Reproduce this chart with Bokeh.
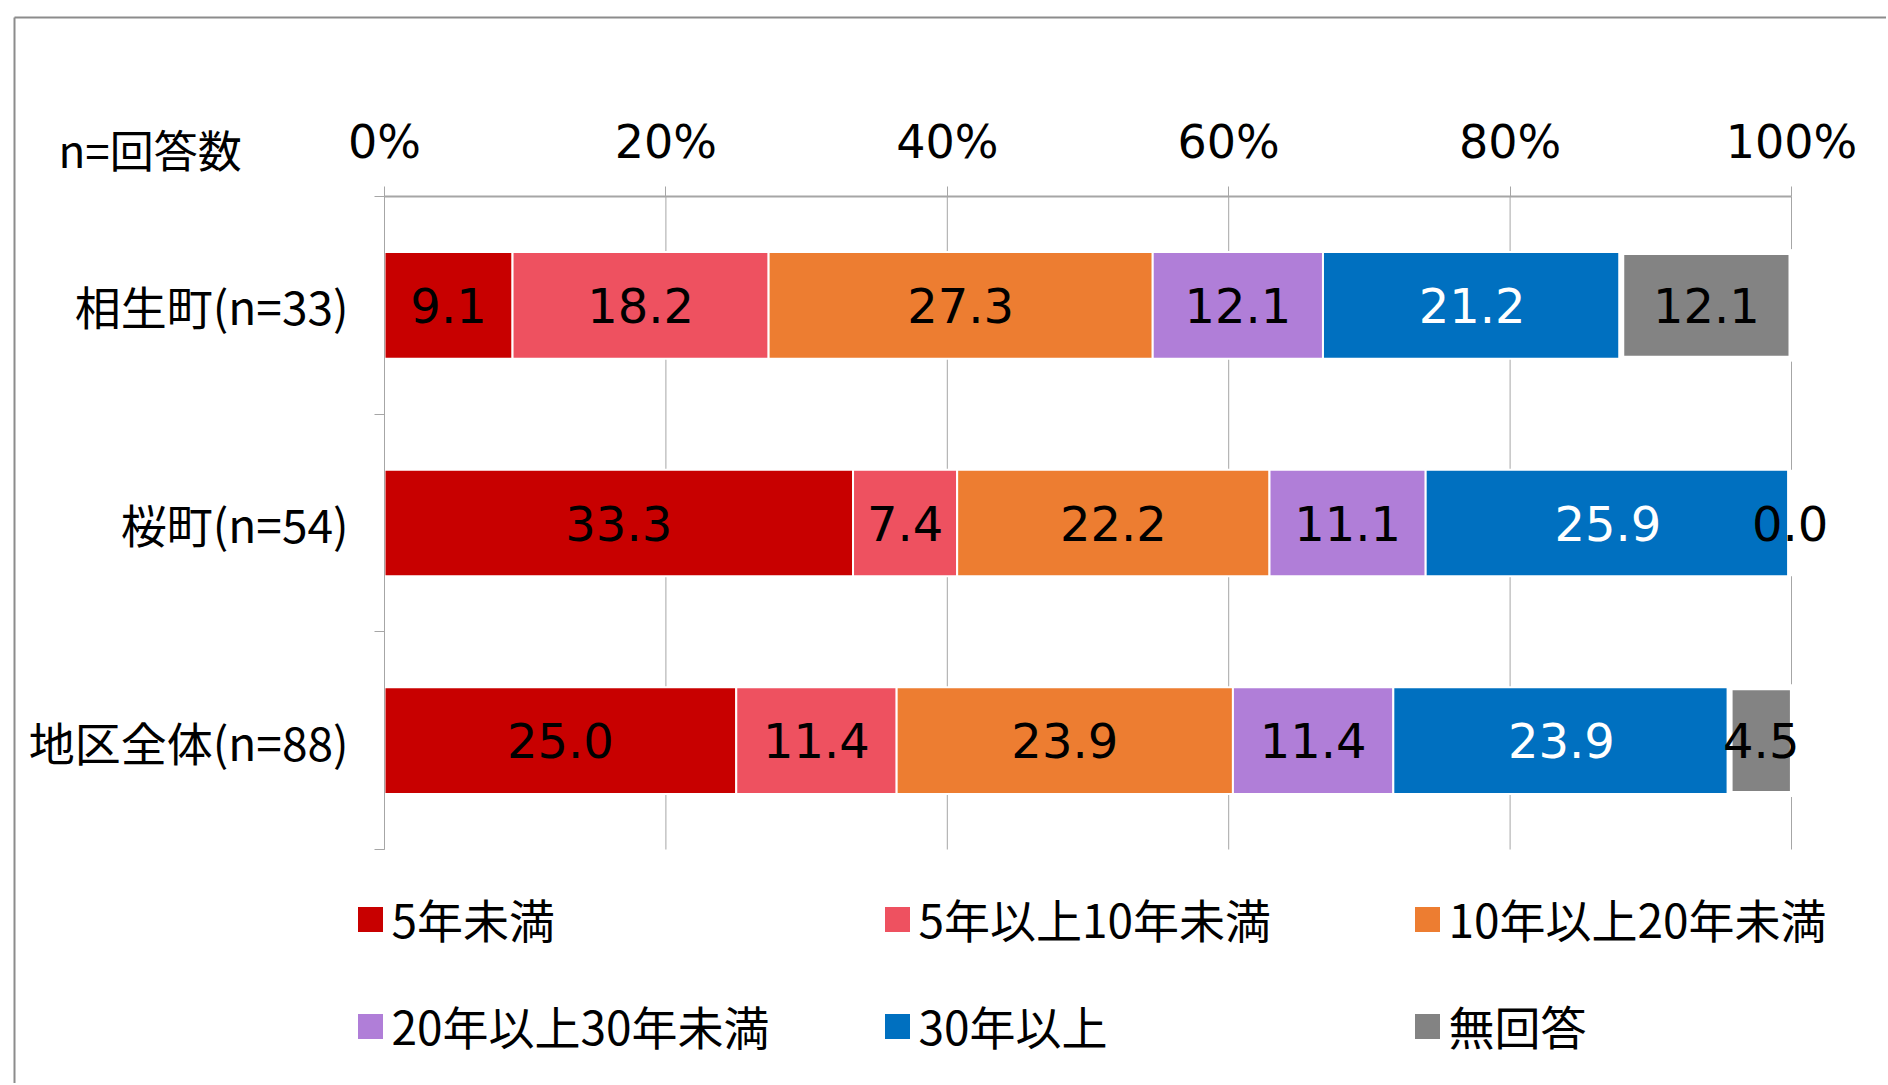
import numpy as np
from bokeh.plotting import figure
from bokeh.models import Range1d, FixedTicker, ColumnDataSource
from bokeh.core.properties import value
from bokeh.embed import file_html
from bokeh.resources import INLINE

# ---- data ----
categories = ["相生町(n=33)", "桜町(n=54)", "地区全体(n=88)"]
series_names = ["5年未満", "5年以上10年未満", "10年以上20年未満",
                "20年以上30年未満", "30年以上", "無回答"]
v_lt5 = [9.1, 33.3, 25.0]
v_5to10 = [18.2, 7.4, 11.4]
v_10to20 = [27.3, 22.2, 23.9]
v_20to30 = [12.1, 11.1, 11.4]
v_ge30 = [21.2, 25.9, 23.9]
v_none = [12.1, 0.0, 4.5]
x_ticks = [0, 20, 40, 60, 80, 100]
x_tick_labels = ["0%", "20%", "40%", "60%", "80%", "100%"]
axis_title = "n=回答数"

series_values = [v_lt5, v_5to10, v_10to20, v_20to30, v_ge30, v_none]

# ---- styles / layout (pixels) ----
colors = ["#C80000", "#EE5160", "#ED7D31", "#B07ED8", "#0070C0", "#838383"]
label_colors = ["black", "black", "black", "black", "white", "black"]
line_widths = [2, 2, 2, 2, 2, 6]
CJK = "Noto Sans CJK JP"
NUM = "DejaVu Sans"
GRID = "#a6a6a6"
W, H = 1886, 1083
X0_PX, X100_PX = 384, 1791          # pixel positions of 0% and 100%
TOP_PX, BOTTOM_PX = 196, 849        # plot area top / bottom
LEG_COL_X = [370, 897, 1427]        # legend square centres
LEG_ROW_Y = [917, 1024]
LEG_TEXT_DX = 21
BORDER_X, BORDER_Y = 14, 17

ncat = len(categories)
px_per_x = (X100_PX - X0_PX) / 100.0
px_per_y = (BOTTOM_PX - TOP_PX) / ncat
x_range = Range1d(-X0_PX / px_per_x, (W - X0_PX) / px_per_x)
y_range = Range1d((H - TOP_PX) / px_per_y, -TOP_PX / px_per_y)

p = figure(width=W, height=H, x_range=x_range, y_range=y_range,
           x_axis_location="above", y_axis_location="left",
           output_backend="svg", toolbar_location=None,
           min_border=0, min_border_left=0, min_border_right=0,
           min_border_top=0, min_border_bottom=0)
p.title.visible = False
p.outline_line_color = None
p.xgrid.visible = False
p.ygrid.visible = False
p.extra_x_ranges = {"px": Range1d(0, W)}
p.extra_y_ranges = {"px": Range1d(H, 0)}

# chart border
p.segment(x0=[BORDER_X, BORDER_X], y0=[BORDER_Y, BORDER_Y],
          x1=[BORDER_X, W + 10], y1=[H + 10, BORDER_Y],
          line_color="#8c8c8c", line_width=2,
          x_range_name="px", y_range_name="px")

# vertical grid lines within the plot area
p.segment(x0=x_ticks, x1=x_ticks, y0=[0] * len(x_ticks), y1=[ncat] * len(x_ticks),
          line_color=GRID, line_width=1)

ypos = np.arange(ncat) + 0.5
cum = np.zeros(ncat)
for name, vals, col, lc, lw in zip(series_names, series_values, colors, label_colors, line_widths):
    vals = np.array(vals)
    left = cum.copy()
    right = cum + vals
    p.hbar(y=ypos, left=left, right=right, height=0.49,
           fill_color=col, line_color="white", line_width=lw)
    src = ColumnDataSource(dict(x=left + vals / 2, y=ypos,
                                text=[f"{v:.1f}" for v in vals]))
    p.text(x="x", y="y", text="text", source=src,
           text_align="center", text_baseline="middle",
           text_font=value(NUM), text_font_size=value("48px"),
           text_color=lc)
    cum = right

# x axis (top), through the data scale
xa = p.xaxis[0]
xa.fixed_location = 0
xa.bounds = (x_ticks[0], x_ticks[-1])
xa.ticker = FixedTicker(ticks=x_ticks)
xa.major_label_overrides = {t: l for t, l in zip(x_ticks, x_tick_labels)}
xa.major_tick_out = 10
xa.major_tick_in = 0
xa.minor_tick_line_color = None
xa.axis_line_color = GRID
xa.axis_line_width = 2
xa.major_tick_line_color = GRID
xa.major_label_standoff = 18
xa.major_label_text_font = NUM
xa.major_label_text_font_size = "46px"
xa.major_label_text_color = "black"

# y axis (categories)
ya = p.yaxis[0]
ya.fixed_location = 0
ya.bounds = (0, ncat)
ya.ticker = FixedTicker(ticks=list(ypos), minor_ticks=list(np.arange(ncat + 1)))
ya.major_label_overrides = {float(y): c for y, c in zip(ypos, categories)}
ya.major_tick_line_color = None
ya.major_tick_out = 0
ya.major_tick_in = 0
ya.minor_tick_out = 10
ya.minor_tick_in = 0
ya.minor_tick_line_color = GRID
ya.axis_line_color = GRID
ya.axis_line_width = 1
ya.major_label_standoff = 26
ya.major_label_text_font = CJK
ya.major_label_text_font_size = "46px"
ya.major_label_text_color = "black"

# axis title
p.text(x=[58], y=[148], text=[axis_title], x_range_name="px", y_range_name="px",
       text_align="left", text_baseline="middle",
       text_font=value(CJK), text_font_size=value("44px"), text_color="black")

# legend (2 rows x 3 columns)
lx = [LEG_COL_X[i % 3] for i in range(len(series_names))]
ly = [LEG_ROW_Y[i // 3] for i in range(len(series_names))]
p.rect(x=lx, y=[y + 2 for y in ly], width=25, height=25, fill_color=colors, line_color=None,
       x_range_name="px", y_range_name="px")
p.text(x=[x + LEG_TEXT_DX for x in lx], y=ly, text=series_names,
       x_range_name="px", y_range_name="px",
       text_align="left", text_baseline="middle",
       text_font=value(CJK), text_font_size=value("46px"), text_color="black")

open("out.html", "w").write(file_html(p, INLINE))
